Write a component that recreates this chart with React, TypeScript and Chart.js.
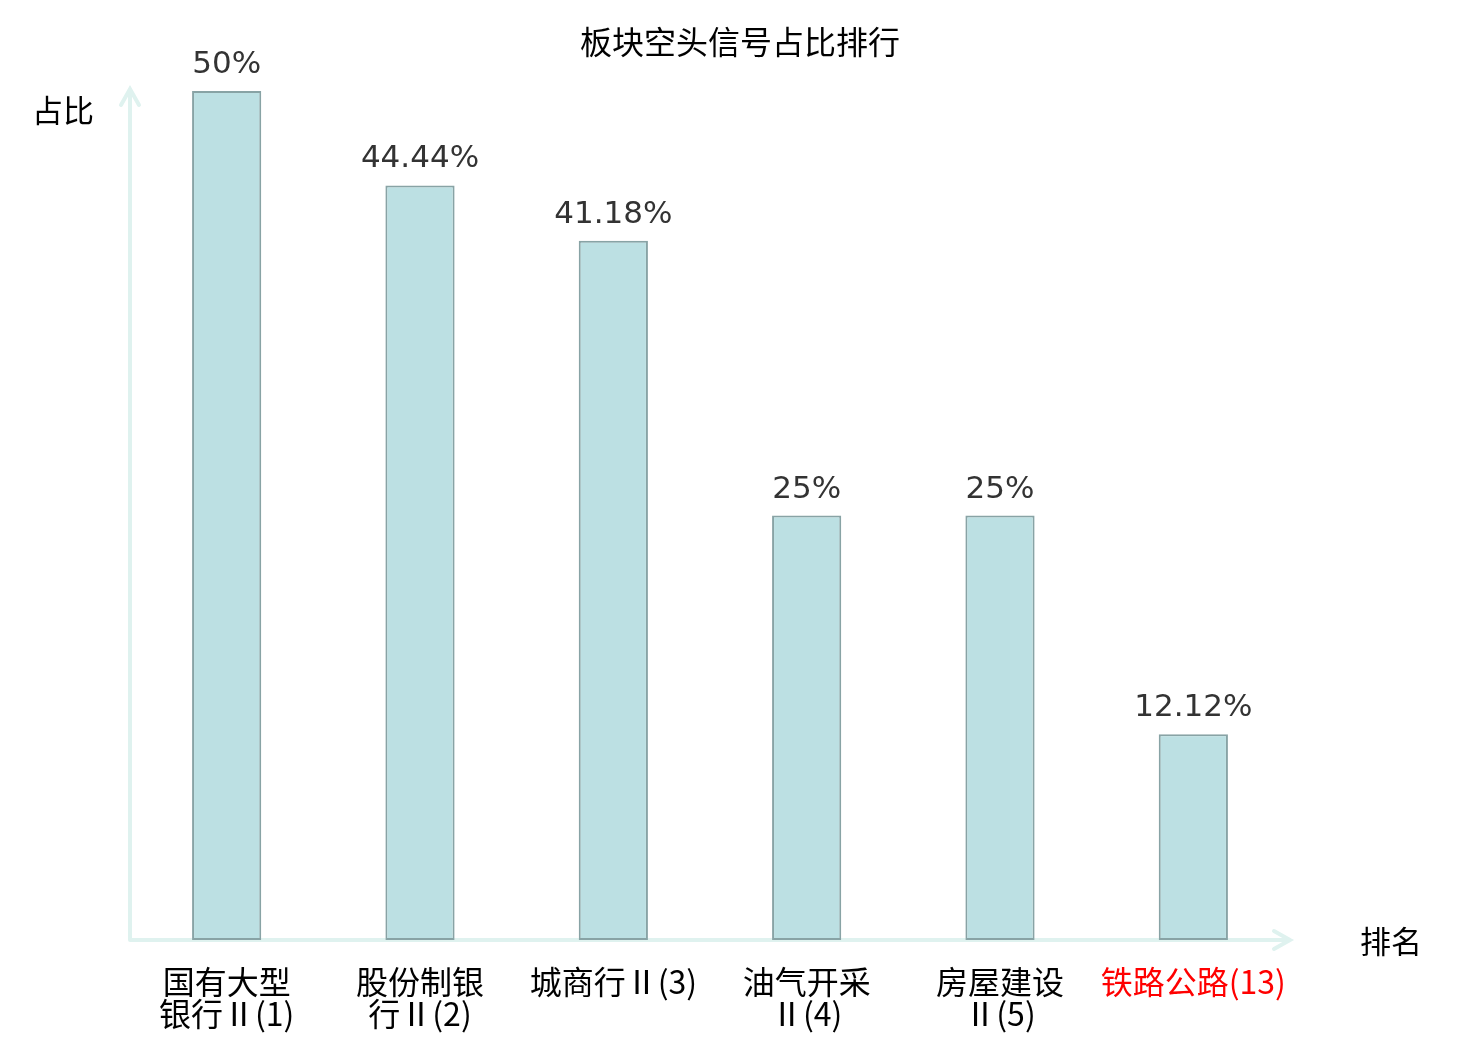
import React, { useEffect, useRef } from 'react';
import { Chart, registerables } from 'chart.js';

Chart.register(...registerables);

const categories = ['国有大型银行Ⅱ(1)', '股份制银行Ⅱ(2)', '城商行Ⅱ(3)', '油气开采Ⅱ(4)', '房屋建设Ⅱ(5)', '铁路公路(13)'];
const tickLines = [
  ['国有大型', '银行Ⅱ(1)'],
  ['股份制银', '行Ⅱ(2)'],
  ['城商行Ⅱ(3)'],
  ['油气开采', 'Ⅱ(4)'],
  ['房屋建设', 'Ⅱ(5)'],
  ['铁路公路(13)'],
];
const ratios = [50, 44.44, 41.18, 25, 25, 12.12];
const highlighted = [false, false, false, false, false, true];
const chartTitle = '板块空头信号占比排行';

const CJK = '"Noto Sans CJK SC", "DejaVu Sans", sans-serif';
const AXIS_COLOR = '#dff2ef';

// title, axis lines with arrow heads, axis names
const axisArrows = {
  id: 'axisArrows',
  beforeDatasetsDraw(chart: Chart) {
    const { ctx, chartArea } = chart;
    const { left, right, top, bottom } = chartArea;
    ctx.save();
    ctx.strokeStyle = AXIS_COLOR;
    ctx.lineWidth = 4;
    ctx.lineCap = 'round';
    ctx.beginPath();
    ctx.moveTo(left, bottom);
    ctx.lineTo(left, top - 2);
    ctx.moveTo(left - 9, top + 14);
    ctx.lineTo(left, top - 2);
    ctx.lineTo(left + 9, top + 14);
    ctx.moveTo(left, bottom);
    ctx.lineTo(right, bottom);
    ctx.moveTo(right - 16, bottom - 9);
    ctx.lineTo(right, bottom);
    ctx.lineTo(right - 16, bottom + 9);
    ctx.stroke();

    ctx.fillStyle = '#000';
    ctx.textAlign = 'center';
    ctx.textBaseline = 'middle';
    ctx.font = `32px ${CJK}`;
    ctx.fillText(chartTitle, chart.width / 2, 42);
    ctx.font = `31px ${CJK}`;
    ctx.fillText('占比', left - 67, top + 19);
    ctx.fillText('排名', right + 101, bottom + 1);
    ctx.restore();
  },
};

const valueLabels = {
  id: 'valueLabels',
  afterDatasetsDraw(chart: Chart) {
    const { ctx } = chart;
    const meta = chart.getDatasetMeta(0);
    ctx.save();
    ctx.fillStyle = '#333';
    ctx.font = '31px "DejaVu Sans", sans-serif';
    ctx.textAlign = 'center';
    ctx.textBaseline = 'alphabetic';
    meta.data.forEach((bar: any, i: number) => {
      ctx.fillText(`${ratios[i]}%`, bar.x, bar.y - 18);
    });
    ctx.restore();
  },
};

const App: React.FC = () => {
  const canvasRef = useRef<HTMLCanvasElement>(null);

  useEffect(() => {
    const ctx = canvasRef.current?.getContext('2d');
    if (!ctx) return;
    const chart = new Chart(ctx, {
      type: 'bar',
      data: {
        labels: categories,
        datasets: [
          {
            data: ratios,
            backgroundColor: '#bce0e3',
            borderColor: '#88a3a5',
            borderWidth: 2,
            borderSkipped: false,
            categoryPercentage: 1,
            barPercentage: 0.358,
          },
        ],
      },
      options: {
        animation: false,
        responsive: true,
        maintainAspectRatio: false,
        layout: { padding: { left: 130, right: 190, top: 91, bottom: 0 } },
        plugins: {
          legend: { display: false },
          tooltip: { enabled: false },
        },
        scales: {
          x: {
            grid: { display: false, drawTicks: false },
            border: { display: false },
            ticks: {
              padding: 26,
              maxRotation: 0,
              autoSkip: false,
              font: { family: CJK, size: 32, lineHeight: '32px' },
              color: (c: any) => (highlighted[c.index] ? '#ff0000' : '#000'),
              callback: (_v: any, i: number) => tickLines[i],
            },
            afterFit: (scale: any) => {
              scale.height = 100;
            },
          },
          y: {
            display: false,
            min: 0,
            max: 50,
          },
        },
      },
      plugins: [axisArrows, valueLabels],
    });
    return () => chart.destroy();
  }, []);

  return (
    <div style={{ position: 'fixed', left: 0, top: 0, width: 1480, height: 1040, background: '#fff' }}>
      <canvas ref={canvasRef}></canvas>
    </div>
  );
};

export default App;
